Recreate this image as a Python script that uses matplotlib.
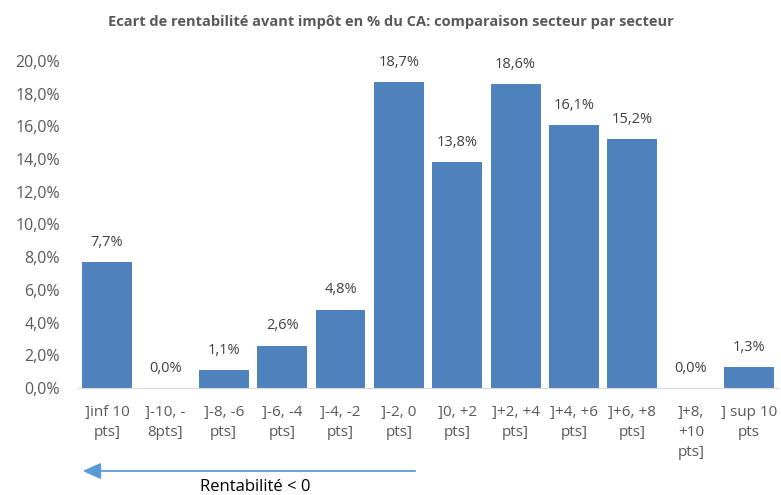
import matplotlib.pyplot as plt
from matplotlib.patches import FancyArrowPatch
from matplotlib.ticker import FuncFormatter

plt.rcParams['font.family'] = ['Open Sans', 'DejaVu Sans']

# tranches d'écart de rentabilité (points) et part des secteurs (%)
categories = [']inf 10\npts]', ']-10, -\n8pts]', ']-8, -6\npts]', ']-6, -4\npts]',
              ']-4, -2\npts]', ']-2, 0\npts]', ']0, +2\npts]', ']+2, +4\npts]',
              ']+4, +6\npts]', ']+6, +8\npts]', ']+8,\n+10\npts]', '] sup 10\npts']
values = [7.7, 0.0, 1.1, 2.6, 4.8, 18.7, 13.8, 18.6, 16.1, 15.2, 0.0, 1.3]

grey = '#595959'
bar_color = '#4f81bd'

fig = plt.figure(figsize=(7.81, 4.95), dpi=100)
ax = fig.add_axes([0.0996, 0.216, 0.897, 0.661])

x = range(len(values))
ax.bar(x, values, width=0.856, color=bar_color)
for xi, v in zip(x, values):
    ax.text(xi, v + 1.2, f'{v:.1f}%'.replace('.', ','), ha='center', va='center',
            fontsize=10.5, color='#404040')

ax.set_xlim(-0.5, len(values) - 0.5)
ax.set_ylim(0, 20)
ax.set_yticks(range(0, 21, 2))
ax.yaxis.set_major_formatter(FuncFormatter(lambda v, p: f'{v:.1f}%'.replace('.', ',')))
ax.set_xticks(list(x))
ax.set_xticklabels(categories, fontsize=11, color=grey, linespacing=1.45)
ax.tick_params(axis='y', labelsize=11.5, colors=grey, length=0, pad=13)
ax.tick_params(axis='x', length=0, pad=12)
for s in ['top', 'right', 'left']:
    ax.spines[s].set_visible(False)
ax.spines['bottom'].set_color('#d9d9d9')

fig.text(0.5, 0.955, 'Ecart de rentabilité avant impôt en % du CA: comparaison secteur par secteur',
         ha='center', va='center', fontsize=10.5, fontweight='bold', color=grey)

# flèche "Rentabilité < 0"
fig.patches.append(FancyArrowPatch(
    (418 / 781, 1 - 471 / 495), (80 / 781, 1 - 471 / 495), transform=fig.transFigure,
    arrowstyle='-|>,head_length=11,head_width=5', color='#5b9bd5', lw=1.3, mutation_scale=1))
fig.text(255 / 781, 1 - 487 / 495, 'Rentabilité < 0', ha='center', va='center',
         fontsize=12, color='black')

fig.savefig('out.png', dpi=100)
